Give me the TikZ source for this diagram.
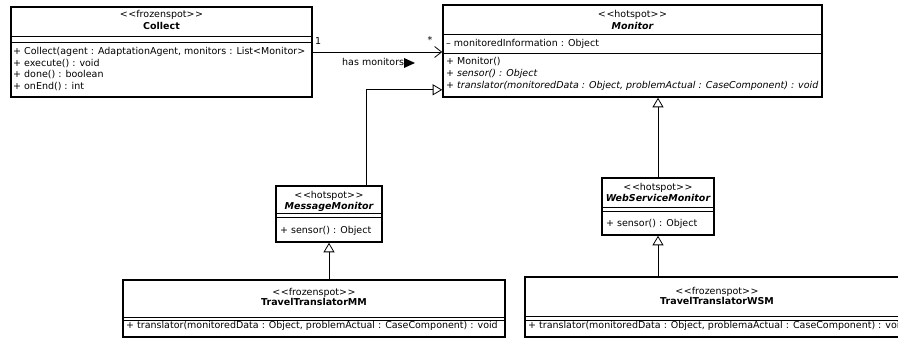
\documentclass[tikz,border=0pt]{standalone}
\usepackage{fontspec}
\setmainfont{DejaVu Sans}
\usetikzlibrary{arrows.meta,calc}
\newcommand{\stereo}[1]{<\kern0.6pt<#1>\kern0.6pt>}
\begin{document}
\begin{tikzpicture}[x=1pt,y=-1pt,
 cls/.style={draw, line width=1.6pt, inner sep=0pt, rectangle},
 sep/.style={line width=0.7pt},
 txt/.style={inner sep=0pt, text height=7pt, text depth=2pt, font=\fontsize{9.5}{11}\selectfont},
 lt/.style={txt, anchor=west},
 gen/.style={line width=0.8pt, -{Triangle[open, length=9.5pt, width=11pt]}},
 assoc/.style={line width=0.8pt, -{Straight Barb[length=7pt, width=11pt]}}
]
\useasboundingbox (0,0) rectangle (898,339);
\clip (0,0) rectangle (898,339);
\fill[white] (0,0) rectangle (898,339);

% Collect
\node[cls, minimum width=301pt, minimum height=90pt] (collect) at (161.5,52) {};
\draw[sep] (11,36) -- (312,36) (11,42) -- (312,42);
\node[txt] (cst) at (161.5,15) {\stereo{frozenspot}};
\node[txt, font=\fontsize{9.5}{11}\selectfont\bfseries] (cname) at (161.5,27) {Collect};
\node[lt] (cm1) at (13,52) {+ Collect(agent : AdaptationAgent, monitors : List<Monitor>};
\node[lt] (cm2) at (13,64) {+ execute() : void};
\node[lt] (cm3) at (13,75.5) {+ done() : boolean};
\node[lt] (cm4) at (13,87) {+ onEnd() : int};

% Monitor
\node[cls, minimum width=379pt, minimum height=92pt] (monitor) at (632.5,51) {};
\draw[sep] (443,34) -- (822,34) (443,53) -- (822,53);
\node[txt] (mst) at (632.5,15) {\stereo{hotspot}};
\node[txt, font=\fontsize{9.5}{11}\selectfont\bfseries\itshape] (mname) at (632.5,27) {Monitor};
\node[lt] (ma1) at (446,44) {– monitoredInformation : Object};
\node[lt] (mm1) at (446,62) {+ Monitor()};
\node[lt, font=\fontsize{9.5}{11}\selectfont\itshape] (mm2) at (446,74) {+ sensor() : Object};
\node[lt, font=\fontsize{9.5}{11}\selectfont\itshape] (mm3) at (446,86) {+ translator(monitoredData : Object, problemActual : CaseComponent) : void};

% MessageMonitor
\node[cls, minimum width=106pt, minimum height=56pt] (msgmon) at (329,214) {};
\draw[sep] (276,213) -- (382,213) (276,217) -- (382,217);
\node[txt] (msst) at (329,196) {\stereo{hotspot}};
\node[txt, font=\fontsize{9.5}{11}\selectfont\bfseries\itshape] (msname) at (329,207) {MessageMonitor};
\node[lt] (msm1) at (280,231) {+ sensor() : Object};

% WebServiceMonitor
\node[cls, minimum width=112pt, minimum height=57pt] (wsmon) at (658,206.5) {};
\draw[sep] (602,207) -- (714,207) (602,211) -- (714,211);
\node[txt] (wsst) at (658,188) {\stereo{hotspot}};
\node[txt, font=\fontsize{9.5}{11}\selectfont\bfseries\itshape] (wsname) at (658,199) {WebServiceMonitor};
\node[lt] (wsm1) at (606,224) {+ sensor() : Object};

% TravelTranslatorMM
\node[cls, minimum width=382pt, minimum height=57pt] (ttmm) at (314,308.5) {};
\draw[sep] (123,317) -- (505,317) (123,320.5) -- (505,320.5);
\node[txt] (tmst) at (314,293) {\stereo{frozenspot}};
\node[txt, font=\fontsize{9.5}{11}\selectfont\bfseries] (tmname) at (314,303.5) {TravelTranslatorMM};
\node[lt] (tmm1) at (126,326) {+ translator(monitoredData : Object, problemActual : CaseComponent) : void};

% TravelTranslatorWSM
\node[cls, minimum width=384pt, minimum height=60pt] (ttwsm) at (717,307) {};
\draw[sep] (525,316.5) -- (909,316.5) (525,320) -- (909,320);
\node[txt] (twst) at (717,292) {\stereo{frozenspot}};
\node[txt, font=\fontsize{9.5}{11}\selectfont\bfseries] (twname) at (717,302.5) {TravelTranslatorWSM};
\node[lt] (twm1) at (528,326) {+ translator(monitoredData : Object, problemaActual : CaseComponent) : void};

% association
\draw[assoc] (collect.east) -- (collect.east -| monitor.west);
\node[txt, anchor=west] (one) at (315,42) {1};
\node[txt] (star) at (430,41) {*};
\node[txt, anchor=west] (hasmon) at (342,63.5) {has monitors};
\fill (404,58) -- (415,63) -- (404,68) -- cycle;

% generalizations
\draw[gen] ($(msgmon.north east)+(-16,0)$) |- ($(monitor.south west)+(0,-8)$);
\draw[gen] (ttmm.north -| msgmon.south) -- (msgmon.south);
\draw[gen] (wsmon.north) -- (wsmon.north |- monitor.south);
\draw[gen] (ttwsm.north -| wsmon.south) -- (wsmon.south);
\end{tikzpicture}
\end{document}
